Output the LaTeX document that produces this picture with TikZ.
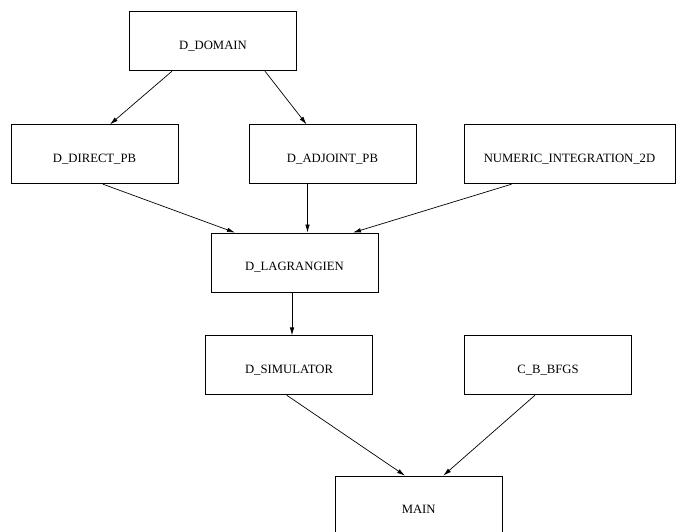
\documentclass[tikz,border=0pt]{standalone}
\usepackage{fontspec}
\setmainfont{Liberation Serif}
\usepackage{tikz}
\usetikzlibrary{arrows.meta,positioning,calc}

\begin{document}
\begin{tikzpicture}[
	x=1pt, y=-1pt,
	module/.style={draw, line width=0.8pt, minimum width=167pt, minimum height=59pt,
		inner sep=0pt, text height=16pt, text depth=0pt, font=\fontsize{12.7}{15}\selectfont},
	arrow/.style={-{Latex[length=8pt,width=4.5pt]}, line width=0.7pt}
]
\useasboundingbox (0,0) rectangle (676,531);

\node[module] (domain) at (213,41.3) {D\_DOMAIN};
\node[module] (direct) at (94.5,154.3) {D\_DIRECT\_PB};
\node[module] (adjoint) at (332.5,154.3) {D\_ADJOINT\_PB};
\node[module, minimum width=211pt] (numeric) at (569.5,154.3) {NUMERIC\_INTEGRATION\_2D};
\node[module] (lagrangien) at (294.5,262.5) {D\_LAGRANGIEN};
\node[module] (simulator) at (289,365.3) {D\_SIMULATOR};
\node[module] (bfgs) at (548,365.3) {C\_B\_BFGS};
\node[module] (main) at (418.7,505.5) {MAIN};

\draw[arrow] ([xshift=-41pt]domain.south) -- ([xshift=15.5pt]direct.north);
\draw[arrow] ([xshift=52pt]domain.south) -- ([xshift=-26pt]adjoint.north);
\draw[arrow] ([xshift=8.5pt]direct.south) -- ([xshift=-59.5pt]lagrangien.north);
\draw[arrow] ([xshift=-25pt]adjoint.south) -- ([xshift=13pt]lagrangien.north);
\draw[arrow] ([xshift=-58pt]numeric.south) -- ([xshift=58.5pt]lagrangien.north);
\draw[arrow] ([xshift=-2.5pt]lagrangien.south) -- ([xshift=3pt]simulator.north);
\draw[arrow] ([xshift=-2.3pt]simulator.south) -- ([xshift=-13.7pt]main.north);
\draw[arrow] ([xshift=-13pt]bfgs.south) -- ([xshift=24.6pt]main.north);
\end{tikzpicture}
\end{document}
